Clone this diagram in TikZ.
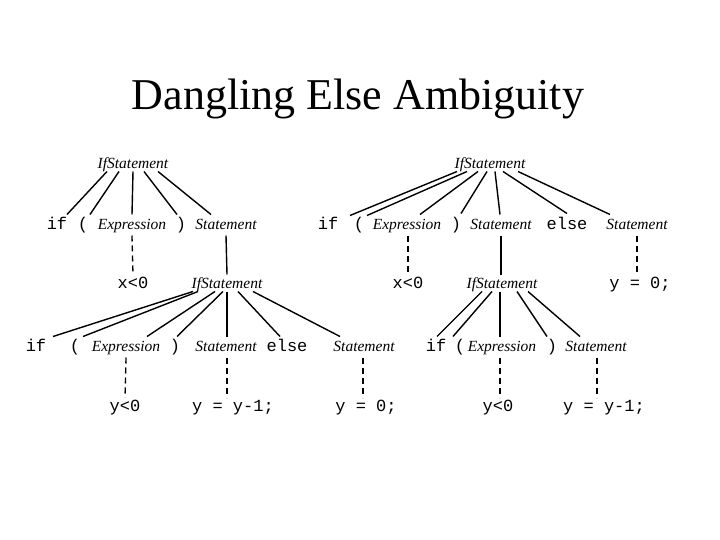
\documentclass[tikz,border=0pt]{standalone}
\usepackage{fontspec}
\setmainfont{Liberation Serif}
\newfontfamily\codefont{Liberation Mono}
\begin{document}
\begin{tikzpicture}[x=1pt,y=-1pt,
  nt/.style={inner sep=0pt,outer sep=0pt,font=\fontsize{15.5}{15.5}\selectfont\itshape,text height=10pt,text depth=3pt},
  tm/.style={inner sep=0pt,outer sep=0pt,font=\fontsize{17}{17}\selectfont\codefont,text height=10pt,text depth=3pt},
  ln/.style={line width=1.4pt},
  dl/.style={line width=1.3pt,dash pattern=on 6pt off 4pt}]
\useasboundingbox[fill=white] (0,0) rectangle (720,540);
\node[inner sep=0pt,anchor=base,font=\fontsize{44}{44}\selectfont] (title) at (358,110) {Dangling Else Ambiguity};

% ---------- Left tree ----------
\node[nt] (a0) at (133,165) {IfStatement};
\node[tm] (a1) at (57,226) {if};
\node[tm] (a2) at (83,226) {(};
\node[nt] (a3) at (132,226) {Expression};
\node[tm] (a4) at (181,226) {)};
\node[nt] (a5) at (226,226) {Statement};
\node[tm] (ax) at (133,285) {x<0};
\node[nt] (b0) at (227,285) {IfStatement};
\node[tm] (b1) at (36,348) {if};
\node[tm] (b2) at (75,348) {(};
\node[nt] (b3) at (126,348) {Expression};
\node[tm] (b4) at (175,348) {)};
\node[nt] (b5) at (226,348) {Statement};
\node[tm] (b6) at (287,348) {else};
\node[nt] (b7) at (364,348) {Statement};
\node[tm] (by) at (125,408) {y<0};
\node[tm] (bz) at (233,408) {y = y-1;};
\node[tm] (bw) at (366,408) {y = 0;};

\draw[ln] ([xshift=-26pt]a0.south) -- ([xshift=10pt,yshift=5pt]a1.north);
\draw[ln] ([xshift=-14pt]a0.south) -- ([xshift=7pt,yshift=5pt]a2.north);
\draw[ln] (a0.south) -- ([yshift=5pt]a3.north);
\draw[ln] ([xshift=11pt]a0.south) -- ([xshift=-4pt,yshift=5pt]a4.north);
\draw[ln] ([xshift=25pt]a0.south) -- ([xshift=-15pt,yshift=5pt]a5.north);
\draw[dl] ([yshift=-3pt]a3.south) -- ([yshift=4pt]ax.north);
\draw[ln] ([yshift=-3pt]a5.south) -- ([yshift=4pt]b0.north);

\draw[ln] ([xshift=-34pt]b0.south) -- ([xshift=17pt,yshift=5pt]b1.north);
\draw[ln] ([xshift=-29pt]b0.south) -- ([xshift=8pt,yshift=5pt]b2.north);
\draw[ln] ([xshift=-12pt]b0.south) -- ([xshift=21pt,yshift=5pt]b3.north);
\draw[ln] ([xshift=-4pt]b0.south) -- ([xshift=2pt,yshift=5pt]b4.north);
\draw[ln] (b0.south) -- ([xshift=1pt,yshift=5pt]b5.north);
\draw[ln] ([xshift=11pt]b0.south) -- ([xshift=-7pt,yshift=5pt]b6.north);
\draw[ln] ([xshift=26pt]b0.south) -- ([xshift=-24pt,yshift=5pt]b7.north);
\draw[dl] ([yshift=-3pt]b3.south) -- ([yshift=4pt]by.north);
\draw[dl,line width=1.8pt] ([xshift=1pt,yshift=-3pt]b5.south) -- ([xshift=-6pt,yshift=4pt]bz.north);
\draw[dl] ([xshift=-1pt,yshift=-3pt]b7.south) -- ([xshift=-3pt,yshift=4pt]bw.north);

% ---------- Right tree ----------
\node[nt] (c0) at (490,165) {IfStatement};
\node[tm] (c1) at (328,226) {if};
\node[tm] (c2) at (359,226) {(};
\node[nt] (c3) at (407,226) {Expression};
\node[tm] (c4) at (456,226) {)};
\node[nt] (c5) at (501,226) {Statement};
\node[tm] (c6) at (567,226) {else};
\node[nt] (c7) at (637,226) {Statement};
\node[tm] (cx) at (408,285) {x<0};
\node[nt] (d0) at (502,285) {IfStatement};
\node[tm] (cw) at (640,285) {y = 0;};
\node[tm] (d1) at (436,348) {if};
\node[tm] (d2) at (460,348) {(};
\node[nt] (d3) at (502,348) {Expression};
\node[tm] (d4) at (552,348) {)};
\node[nt] (d5) at (596,348) {Statement};
\node[tm] (dy) at (498,408) {y<0};
\node[tm] (dz) at (604,408) {y = y-1;};

\draw[ln] ([xshift=-33pt]c0.south) -- ([xshift=22pt,yshift=4pt]c1.north);
\draw[ln] ([xshift=-23pt]c0.south) -- ([xshift=8pt,yshift=4pt]c2.north);
\draw[ln] ([xshift=-12pt]c0.south) -- ([xshift=13pt,yshift=5pt]c3.north);
\draw[ln] ([xshift=-3pt]c0.south) -- ([xshift=5pt,yshift=6pt]c4.north);
\draw[ln] ([xshift=5pt]c0.south) -- ([xshift=-1pt,yshift=5pt]c5.north);
\draw[ln] ([xshift=13pt]c0.south) -- ([xshift=0pt,yshift=6pt]c6.north);
\draw[ln] ([xshift=28pt]c0.south) -- ([xshift=-27pt,yshift=5pt]c7.north);
\draw[dl,line width=1.8pt] ([xshift=1pt,yshift=-3pt]c3.south) -- ([yshift=4pt]cx.north);
\draw[ln] ([yshift=-3pt]c5.south) -- ([xshift=-1pt,yshift=4pt]d0.north);
\draw[dl,line width=1.8pt] ([yshift=-3pt]c7.south) -- ([xshift=-3pt,yshift=4pt]cw.north);

\draw[ln] ([xshift=-20pt]d0.south) -- ([xshift=1pt,yshift=5pt]d1.north);
\draw[ln] ([xshift=-10pt]d0.south) -- ([xshift=-7pt,yshift=5pt]d2.north);
\draw[ln] ([xshift=-2pt]d0.south) -- ([xshift=-2pt,yshift=5pt]d3.north);
\draw[ln] ([xshift=15pt]d0.south) -- ([xshift=-5pt,yshift=5pt]d4.north);
\draw[ln] ([xshift=26pt]d0.south) -- ([xshift=-16pt,yshift=5pt]d5.north);
\draw[dl] ([xshift=-2pt,yshift=-3pt]d3.south) -- ([xshift=2pt,yshift=4pt]dy.north);
\draw[dl] ([xshift=1pt,yshift=-3pt]d5.south) -- ([xshift=-7pt,yshift=4pt]dz.north);
\end{tikzpicture}
\end{document}
